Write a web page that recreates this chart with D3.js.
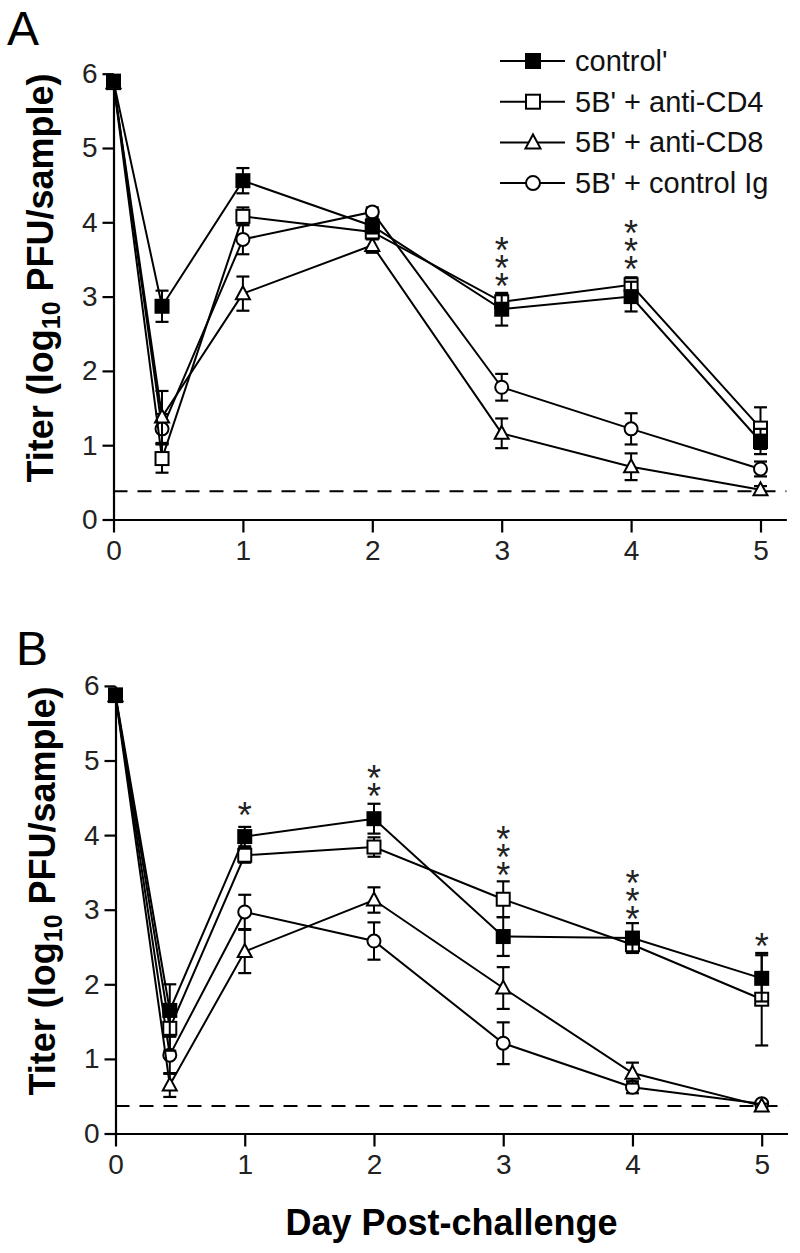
<!DOCTYPE html>
<html><head><meta charset="utf-8">
<script src="https://cdn.jsdelivr.net/npm/d3@7"></script>
<style>body{margin:0;background:#fff}svg{display:block}text{font-family:"Liberation Sans",Arial,sans-serif}
.stars{writing-mode:vertical-rl;text-orientation:upright}</style>
</head><body>
<svg id="c" width="800" height="1253"></svg>
<script>
// ---- data ----
const seriesNames = ["control'", "5B' + anti-CD4", "5B' + anti-CD8", "5B' + control Ig"];
const seriesShapes = ["filledSquare", "openSquare", "triangle", "circle"];
const daysA = [0, 0.375, 1, 2, 3, 4, 5];
const daysB = [0, 0.42, 1, 2, 3, 4, 5];
const xTicks = [0, 1, 2, 3, 4, 5];
const yTicks = [0, 1, 2, 3, 4, 5, 6];
const detectionLimitA = 0.38;
const detectionLimitB = 0.37;

const A_control = [5.90, 2.87, 4.56, 3.95, 2.83, 3.00, 1.05];
const A_controlErr = [0.05, 0.21, 0.17, 0.10, 0.22, 0.20, 0.17];
const A_cd4 = [5.88, 0.82, 4.08, 3.87, 2.93, 3.16, 1.23];
const A_cd4Err = [0.05, 0.19, 0.12, 0.10, 0.10, 0.10, 0.28];
const A_cd8 = [5.88, 1.38, 3.04, 3.69, 1.16, 0.71, 0.40];
const A_cd8Err = [0.05, 0.35, 0.23, 0.10, 0.20, 0.18, 0.05];
const A_ig = [5.88, 1.22, 3.77, 4.14, 1.78, 1.22, 0.68];
const A_igErr = [0.05, 0.20, 0.20, 0.06, 0.18, 0.21, 0.10];

const B_control = [5.88, 1.65, 3.98, 4.22, 2.64, 2.62, 2.08];
const B_controlErr = [0.05, 0.35, 0.13, 0.20, 0.26, 0.20, 0.31];
const B_cd4 = [5.87, 1.41, 3.73, 3.84, 3.14, 2.53, 1.80];
const B_cd4Err = [0.05, 0.30, 0.10, 0.13, 0.24, 0.10, 0.62];
const B_cd8 = [5.87, 0.65, 2.44, 3.13, 1.95, 0.81, 0.37];
const B_cd8Err = [0.05, 0.16, 0.29, 0.17, 0.28, 0.14, 0.03];
const B_ig = [5.87, 1.05, 2.97, 2.58, 1.21, 0.62, 0.40];
const B_igErr = [0.05, 0.25, 0.23, 0.25, 0.28, 0.08, 0.03];

// significance: [day, label, value of lowest star]
const sigA = [[3, "***", 3.25], [4, "***", 3.48]];
const sigB = [[1, "*", 4.38], [2, "**", 4.63], [3, "***", 3.57], [4, "***", 2.98], [5, "*", 2.62]];

// ---- drawing ----
const svg = d3.select("#c");
const STAR_STEP = 18;

function marker(g, shape, cx, cy, s) {
  const h = s / 2;
  if (shape === "filledSquare" || shape === "openSquare") {
    g.append("rect").attr("x", cx - h).attr("y", cy - h).attr("width", s).attr("height", s)
      .attr("fill", shape === "filledSquare" ? "#000" : "#fff").attr("stroke", "#000").attr("stroke-width", 2);
  } else if (shape === "triangle") {
    const th = s * 0.95;
    g.append("path").attr("d", `M${cx},${cy - th * 0.6}L${cx + h + 0.5},${cy + th * 0.45}L${cx - h - 0.5},${cy + th * 0.45}Z`)
      .attr("fill", "#fff").attr("stroke", "#000").attr("stroke-width", 2);
  } else {
    g.append("circle").attr("cx", cx).attr("cy", cy).attr("r", h)
      .attr("fill", "#fff").attr("stroke", "#000").attr("stroke-width", 2);
  }
}

function panel(opt) {
  const x = d3.scaleLinear().domain([0, 5.2]).range([opt.x0, opt.x0 + 5.2 * opt.kx]);
  const y = d3.scaleLinear().domain([0, 6]).range([opt.y0, opt.y0 - 6 * opt.ky]);
  const g = svg.append("g");

  g.append("text").attr("x", opt.letterX).attr("y", opt.letterY).attr("font-size", 48).text(opt.letter);

  const ya = g.append("g").attr("transform", `translate(${opt.x0},0)`)
    .call(d3.axisLeft(y).tickValues(yTicks).tickFormat(d3.format("d")).tickSize(11).tickSizeOuter(0).tickPadding(5));
  ya.select(".domain").attr("stroke-width", 2.2);
  ya.selectAll(".tick line").attr("stroke-width", 2.2);
  ya.selectAll(".tick text").attr("font-size", 28).attr("font-family", "Liberation Sans, Arial").attr("fill", "#222");

  const xa = g.append("g").attr("transform", `translate(0,${opt.y0})`)
    .call(d3.axisBottom(x).tickValues(xTicks).tickFormat(d3.format("d")).tickSize(13).tickSizeOuter(0).tickPadding(8));
  xa.select(".domain").attr("stroke-width", 2.2);
  xa.selectAll(".tick line").attr("stroke-width", 2.2);
  xa.selectAll(".tick text").attr("font-size", 28).attr("font-family", "Liberation Sans, Arial").attr("fill", "#222");

  const yt = g.append("text").attr("transform", `translate(${opt.titleX},${opt.titleY}) rotate(-90)`)
    .attr("text-anchor", "middle").attr("font-size", 36).attr("font-weight", "bold");
  yt.append("tspan").text("Titer (log");
  yt.append("tspan").attr("font-size", 25).attr("dy", 7).text("10");
  yt.append("tspan").attr("dy", -7).text(" PFU/sample)");

  g.append("line").attr("x1", x(0)).attr("x2", x(5.2)).attr("y1", y(opt.limit)).attr("y2", y(opt.limit))
    .attr("stroke", "#000").attr("stroke-width", 2).attr("stroke-dasharray", "14,10");

  const order = [3, 2, 1, 0];
  const line = d3.line().x(d => x(d[0])).y(d => y(d[1]));
  order.forEach(i => {
    const vals = opt.vals[i], errs = opt.errs[i];
    const pts = opt.days.map((d, j) => [d, vals[j]]);
    const sg = g.append("g");
    sg.append("path").attr("d", line(pts)).attr("fill", "none").attr("stroke", "#000").attr("stroke-width", 2);
    pts.forEach((p, j) => {
      const cx = x(p[0]), lo = y(p[1] - errs[j]), hi = y(p[1] + errs[j]);
      sg.append("line").attr("x1", cx).attr("x2", cx).attr("y1", lo).attr("y2", hi).attr("stroke", "#000").attr("stroke-width", 2);
      [lo, hi].forEach(v => sg.append("line").attr("x1", cx - 6.5).attr("x2", cx + 6.5).attr("y1", v).attr("y2", v).attr("stroke", "#000").attr("stroke-width", 2.2));
    });
    pts.forEach(p => marker(sg, seriesShapes[i], x(p[0]), y(p[1]), 13));
  });

  // significance stars: one vertical text per stack
  opt.sig.forEach(s => {
    const n = s[1].length;
    const topCenter = y(s[2]) - (n - 1) * STAR_STEP;
    const t = g.append("text").attr("class", "stars").attr("x", x(s[0])).attr("y", topCenter - 12)
      .attr("font-size", 36).attr("fill", "#222").style("letter-spacing", "-22.2px").text(s[1]);
    const node = t.node();
    try {
      if (n > 1) {
        const p0 = node.getStartPositionOfChar(0), p1 = node.getStartPositionOfChar(1);
        const adv = Math.abs(p1.y - p0.y);
        if (isFinite(adv) && adv > 0) t.style("letter-spacing", (-22.2 + (STAR_STEP - adv)) + "px");
      }
      const bb = node.getBBox();
      const cxb = bb.x + bb.width / 2;
      if (isFinite(cxb)) t.attr("x", +t.attr("x") + (x(s[0]) - cxb));
    } catch (e) {}
  });
  return {x, y};
}

panel({letter: "A", letterX: 7, letterY: 45, x0: 113.5, kx: 129.4, y0: 519.5, ky: 74.3,
  titleX: 53, titleY: 278, limit: detectionLimitA, days: daysA,
  vals: [A_control, A_cd4, A_cd8, A_ig], errs: [A_controlErr, A_cd4Err, A_cd8Err, A_igErr], sig: sigA});

panel({letter: "B", letterX: 16, letterY: 665, x0: 115.5, kx: 129.24, y0: 1133.5, ky: 74.6,
  titleX: 55, titleY: 891, limit: detectionLimitB, days: daysB,
  vals: [B_control, B_cd4, B_cd8, B_ig], errs: [B_controlErr, B_cd4Err, B_cd8Err, B_igErr], sig: sigB});

svg.append("text").attr("x", 451.5).attr("y", 1235).attr("text-anchor", "middle")
  .attr("font-size", 36).attr("font-weight", "bold").text("Day Post-challenge");

const leg = svg.append("g");
seriesNames.forEach((name, i) => {
  const cy = 61 + i * 40.7;
  leg.append("line").attr("x1", 500).attr("x2", 565).attr("y1", cy).attr("y2", cy).attr("stroke", "#000").attr("stroke-width", 2);
  marker(leg, seriesShapes[i], 533, cy, 14);
  leg.append("text").attr("x", 575).attr("y", cy + 10).attr("font-size", 29).attr("fill", "#111").text(name);
});
</script>
</body></html>
